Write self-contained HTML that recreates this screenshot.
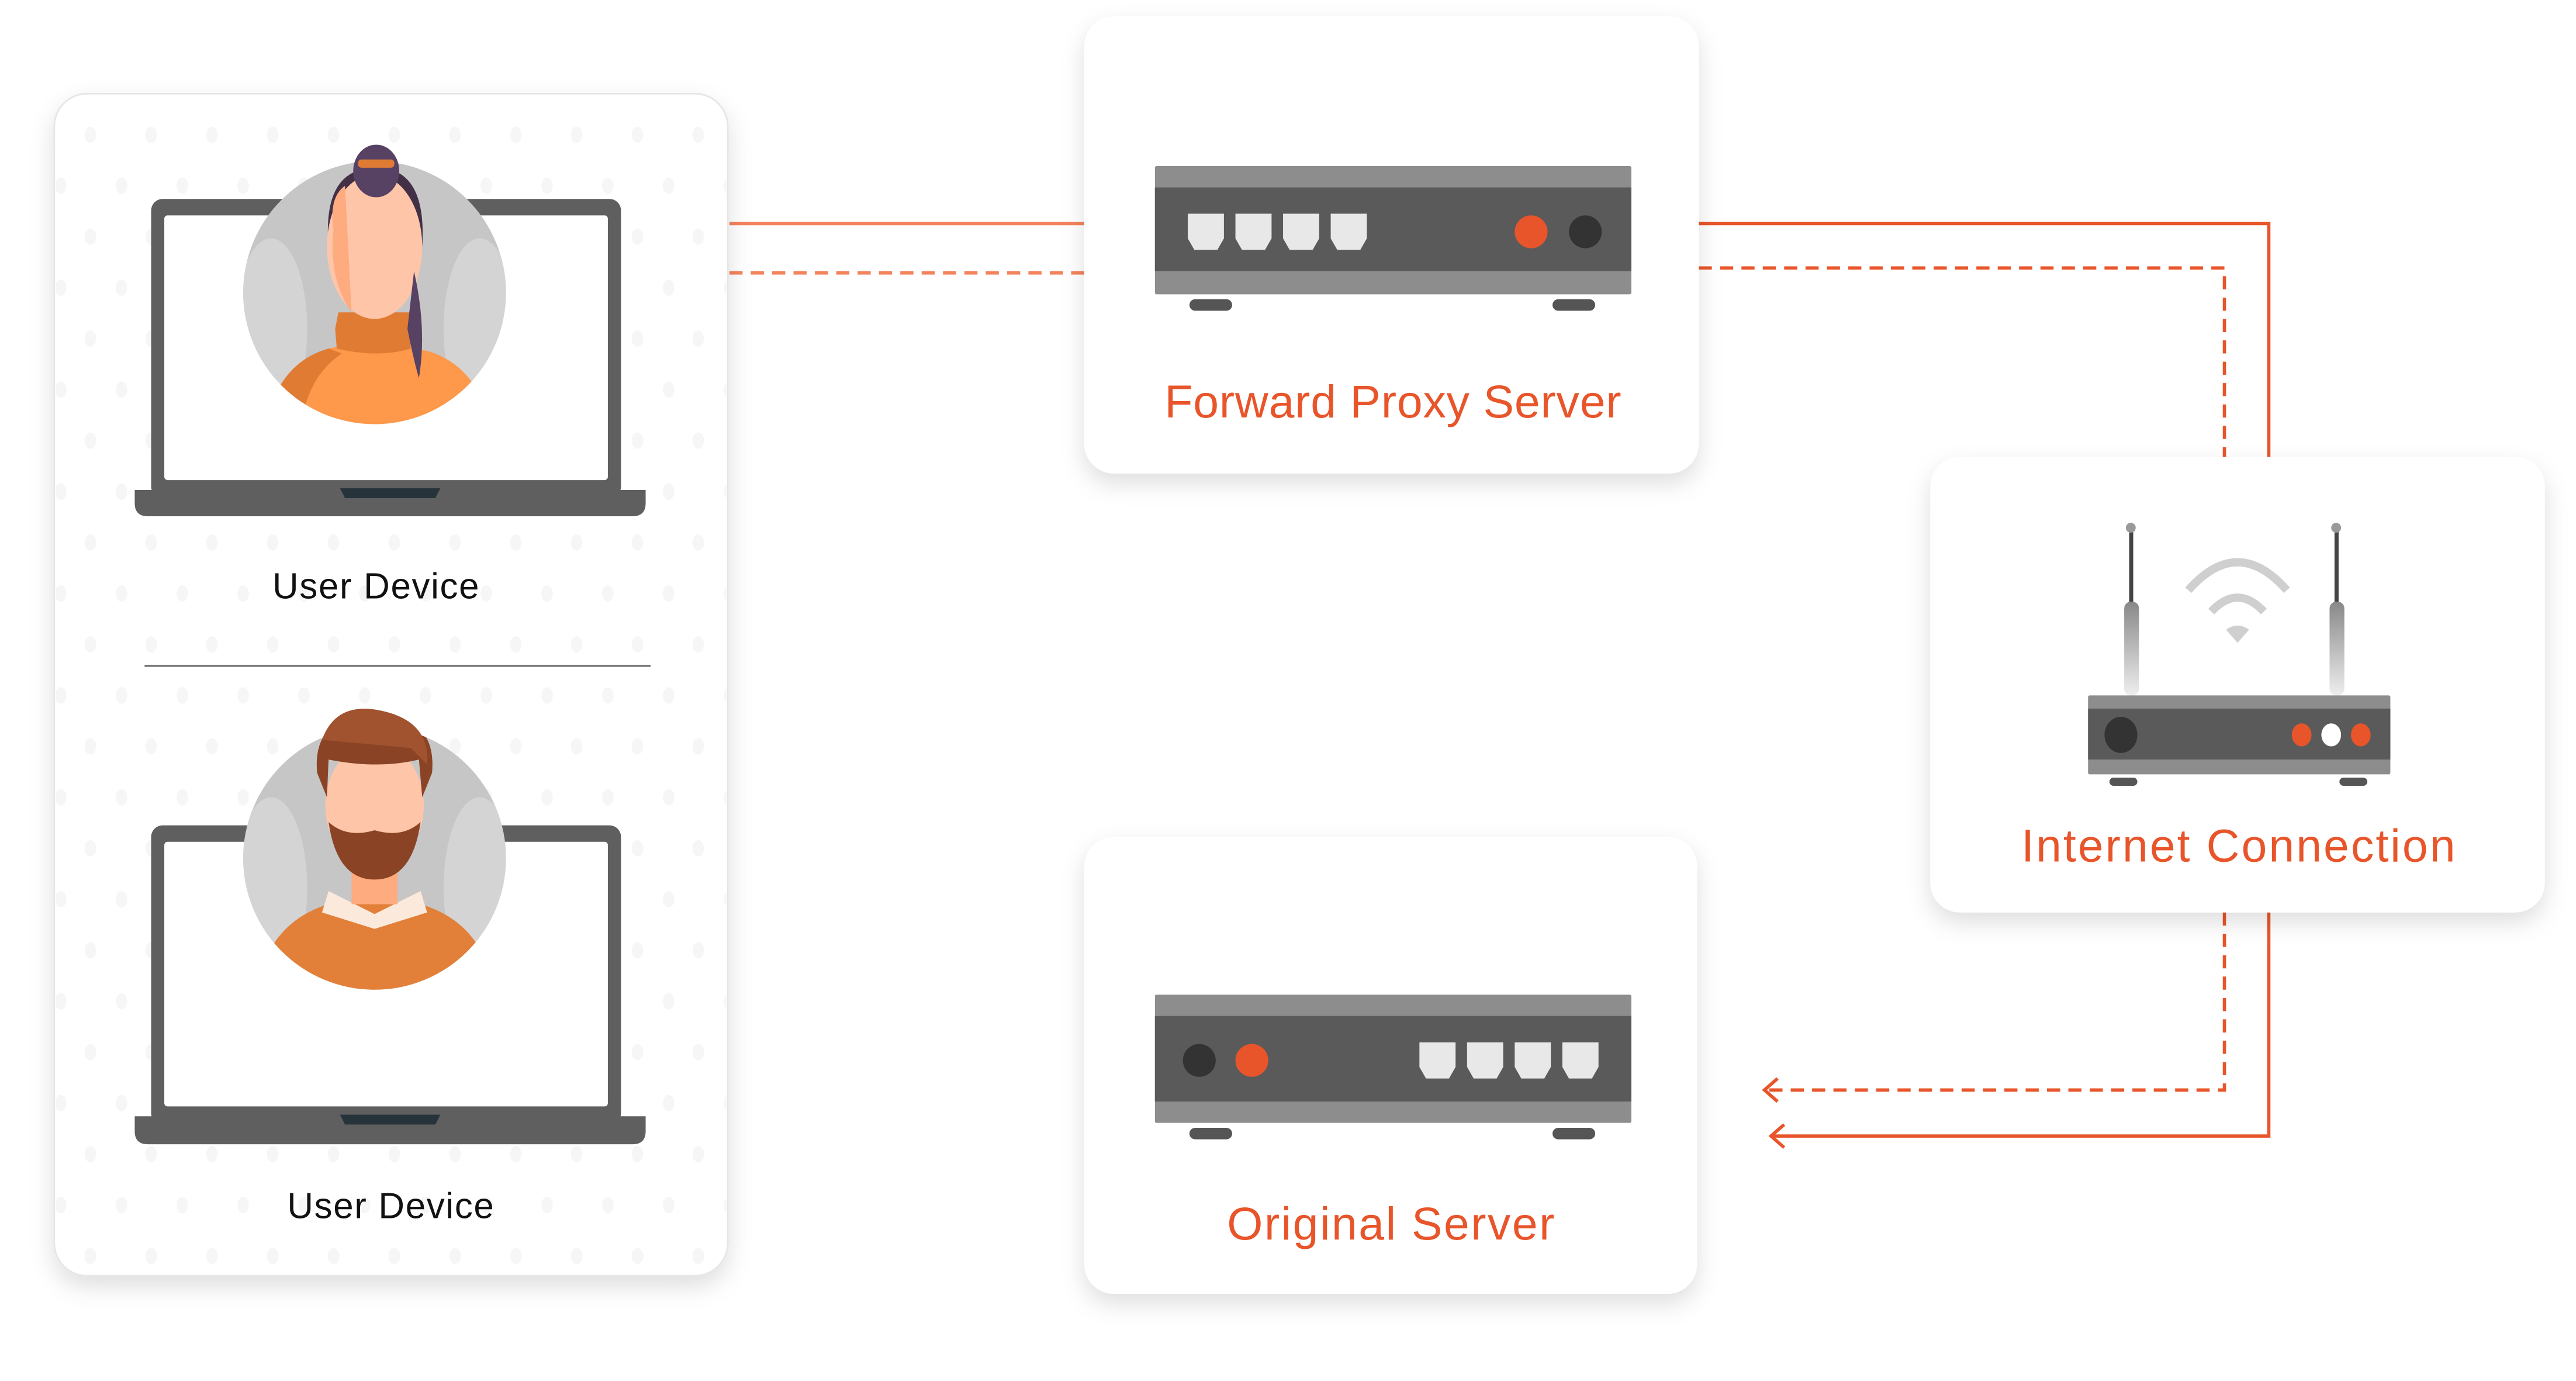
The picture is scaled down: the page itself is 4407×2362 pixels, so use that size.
<!DOCTYPE html>
<html><head><meta charset="utf-8"><style>
html,body{margin:0;padding:0;background:#fff;}
svg{display:block;}
text{font-family:"Liberation Sans",sans-serif;}
</style></head><body>
<svg width="4407" height="2362" viewBox="0 0 1568 840" preserveAspectRatio="none" xmlns="http://www.w3.org/2000/svg">
<defs>
<filter id="sh" x="-20%" y="-20%" width="140%" height="150%"><feDropShadow dx="0" dy="6" stdDeviation="7" flood-color="#000" flood-opacity="0.13"/></filter>
<pattern id="dots" x="0" y="0" width="37" height="62" patternUnits="userSpaceOnUse">
<ellipse cx="18" cy="20" rx="3.5" ry="5" fill="#f6f6f6"/><ellipse cx="0" cy="51" rx="3.5" ry="5" fill="#f6f6f6"/><ellipse cx="37" cy="51" rx="3.5" ry="5" fill="#f6f6f6"/>
</pattern>
<linearGradient id="ant" x1="0" y1="0" x2="0" y2="1"><stop offset="0" stop-color="#888"/><stop offset="1" stop-color="#eee"/></linearGradient>
<clipPath id="c1"><circle cx="228" cy="178" r="80"/></clipPath>
<clipPath id="c2"><circle cx="228" cy="522" r="80"/></clipPath>
</defs>
<rect width="1568" height="840" fill="#fff"/>

<g fill="none" stroke-width="2">
<line x1="444" y1="136" x2="660" y2="136" stroke="#f4835c"/>
<line x1="444" y1="166" x2="660" y2="166" stroke="#f4835c" stroke-dasharray="8,5"/>
<polyline points="1034,136 1381,136 1381,278" stroke="#e8552a"/>
<polyline points="1034,163 1354,163 1354,278" stroke="#e8552a" stroke-dasharray="8,5"/>
<polyline points="1354,555 1354,663 1074,663" stroke="#e8552a" stroke-dasharray="8,5"/>
<polyline points="1381,555 1381,691 1078,691" stroke="#e8552a"/>
<polyline points="1082,656 1074,663 1082,670" stroke="#e8552a"/>
<polyline points="1086,684 1078,691 1086,698" stroke="#e8552a"/>
</g>

<rect x="33" y="57" width="410" height="719" rx="20" fill="#fff" stroke="#e6e6e6" filter="url(#sh)"/>
<rect x="34" y="58" width="408" height="717" rx="20" fill="url(#dots)"/>

<rect x="92" y="121" width="286" height="182" rx="7" fill="#5f5f5f"/>
<rect x="100" y="131" width="270" height="161" rx="2" fill="#fff"/>
<path d="M82 298 H393 V306 Q393 314 385 314 H90 Q82 314 82 306 Z" fill="#5f5f5f"/>
<path d="M207 297 H268 L265 303 H210 Z" fill="#26333a"/>
<g clip-path="url(#c1)">
<circle cx="228" cy="178" r="80" fill="#c6c6c6"/>
<ellipse cx="165" cy="200" rx="22" ry="55" fill="#d4d4d4"/>
<ellipse cx="292" cy="200" rx="22" ry="55" fill="#d4d4d4"/>
<path d="M160 270 Q165 222 200 212 L230 206 L262 214 Q295 225 300 270 Z" fill="#fe984a"/>
<path d="M160 270 Q165 222 200 212 L208 215 Q183 232 183 270 Z" fill="#e07b34"/>
<path d="M204 200 L206 190 L250 190 L250 212 Q230 218 205 212 Z" fill="#e07b34"/>
<path d="M200 150 Q196 102 229 102 Q260 102 257 150 Z" fill="#433047"/>
<ellipse cx="228" cy="150" rx="29" ry="44" fill="#ffc5a9"/>
<path d="M203 140 Q200 120 210 113 L214 190 Q200 170 203 140 Z" fill="#fdab7f"/>
<path d="M252 165 Q260 200 255 230 Q252 220 248 200 Z" fill="#574263"/>
</g>
<ellipse cx="229" cy="104" rx="14" ry="16" fill="#574263"/>
<rect x="218" y="97" width="22" height="5" rx="2" fill="#e07b34"/>

<text x="229" y="364" font-size="22" letter-spacing="0.6" fill="#111" text-anchor="middle">User Device</text>
<line x1="88" y1="405" x2="396" y2="405" stroke="#777" stroke-width="1.3"/>

<rect x="92" y="502" width="286" height="182" rx="7" fill="#5f5f5f"/>
<rect x="100" y="512" width="270" height="161" rx="2" fill="#fff"/>
<path d="M82 679 H393 V688 Q393 696 385 696 H90 Q82 696 82 688 Z" fill="#5f5f5f"/>
<path d="M207 678 H268 L265 684 H210 Z" fill="#26333a"/>
<g clip-path="url(#c2)">
<circle cx="228" cy="522" r="80" fill="#c6c6c6"/>
<ellipse cx="165" cy="540" rx="22" ry="55" fill="#d4d4d4"/>
<ellipse cx="292" cy="540" rx="22" ry="55" fill="#d4d4d4"/>
<path d="M155 610 Q160 562 200 550 L256 550 Q297 562 302 610 Z" fill="#e2803a"/>
<path d="M200 542 L228 556 L256 542 L260 555 L228 565 L196 555 Z" fill="#fbe9dc"/>
<rect x="214" y="520" width="28" height="30" fill="#fdab7f"/>
<ellipse cx="228" cy="490" rx="30" ry="38" fill="#ffc5a9"/>
<path d="M200 500 Q205 535 228 535 Q251 535 256 500 Q245 510 228 505 Q211 510 200 500 Z" fill="#8a4425"/>
<path d="M193 470 Q190 435 228 435 Q266 435 263 470 L257 485 L255 462 Q230 468 200 462 L199 485 Z" fill="#8a4425"/>
</g>
<path d="M196 450 Q205 425 235 433 Q262 440 260 465 L250 455 Z" fill="#a0532e"/>

<text x="238" y="741" font-size="22" letter-spacing="0.6" fill="#111" text-anchor="middle">User Device</text>

<rect x="660" y="10" width="374" height="278" rx="18" fill="#fff" filter="url(#sh)"/>
<rect x="703" y="101" width="290" height="78" rx="1" fill="#8d8d8d"/>
<rect x="703" y="114" width="290" height="51" fill="#5a5a5a"/>
<g fill="#e8e8e8">
<path d="M723 130h22v15l-4 7h-14l-4-7z"/><path d="M752 130h22v15l-4 7h-14l-4-7z"/><path d="M781 130h22v15l-4 7h-14l-4-7z"/><path d="M810 130h22v15l-4 7h-14l-4-7z"/>
</g>
<circle cx="932" cy="141" r="10" fill="#e8552a"/><circle cx="965" cy="141" r="10" fill="#333"/>
<rect x="724" y="182" width="26" height="7" rx="3.5" fill="#555"/><rect x="945" y="182" width="26" height="7" rx="3.5" fill="#555"/>
<text x="848" y="254" font-size="28" letter-spacing="0.3" fill="#e8552a" text-anchor="middle">Forward Proxy Server</text>

<rect x="660" y="509" width="373" height="278" rx="18" fill="#fff" filter="url(#sh)"/>
<rect x="703" y="605" width="290" height="78" rx="1" fill="#8d8d8d"/>
<rect x="703" y="618" width="290" height="52" fill="#5a5a5a"/>
<g fill="#e8e8e8">
<path d="M864 634h22v15l-4 7h-14l-4-7z"/><path d="M893 634h22v15l-4 7h-14l-4-7z"/><path d="M922 634h22v15l-4 7h-14l-4-7z"/><path d="M951 634h22v15l-4 7h-14l-4-7z"/>
</g>
<circle cx="730" cy="645" r="10" fill="#333"/><circle cx="762" cy="645" r="10" fill="#e8552a"/>
<rect x="724" y="686" width="26" height="7" rx="3.5" fill="#555"/><rect x="945" y="686" width="26" height="7" rx="3.5" fill="#555"/>
<text x="847" y="754" font-size="28" letter-spacing="0.9" fill="#e8552a" text-anchor="middle">Original Server</text>

<rect x="1175" y="278" width="374" height="277" rx="18" fill="#fff" filter="url(#sh)"/>
<rect x="1296" y="322" width="2.5" height="70" fill="#444"/>
<rect x="1421" y="322" width="2.5" height="70" fill="#444"/>
<circle cx="1297" cy="321" r="3" fill="#999"/><circle cx="1422" cy="321" r="3" fill="#999"/>
<rect x="1293" y="366" width="9" height="57" rx="4" fill="url(#ant)"/>
<rect x="1418" y="366" width="9" height="57" rx="4" fill="url(#ant)"/>
<g fill="none" stroke="#cfcfcf" stroke-width="5">
<path d="M1332 359 Q1362 325 1392 359"/><path d="M1346 372 Q1362 355 1378 372"/>
</g>
<path d="M1355 383 Q1362 378 1369 383 L1362 391 Z" fill="#cfcfcf"/>
<rect x="1271" y="423" width="184" height="48" rx="1" fill="#8d8d8d"/>
<rect x="1271" y="431" width="184" height="31" fill="#5a5a5a"/>
<ellipse cx="1291" cy="447" rx="10" ry="11" fill="#333"/>
<ellipse cx="1401" cy="447" rx="6" ry="7" fill="#e8552a"/><ellipse cx="1419" cy="447" rx="6" ry="7" fill="#fff"/><ellipse cx="1437" cy="447" rx="6" ry="7" fill="#e8552a"/>
<rect x="1284" y="473" width="17" height="5" rx="2.5" fill="#555"/><rect x="1424" y="473" width="17" height="5" rx="2.5" fill="#555"/>
<text x="1363" y="524" font-size="28" letter-spacing="1.1" fill="#e8552a" text-anchor="middle">Internet Connection</text>
</svg>
</body></html>
